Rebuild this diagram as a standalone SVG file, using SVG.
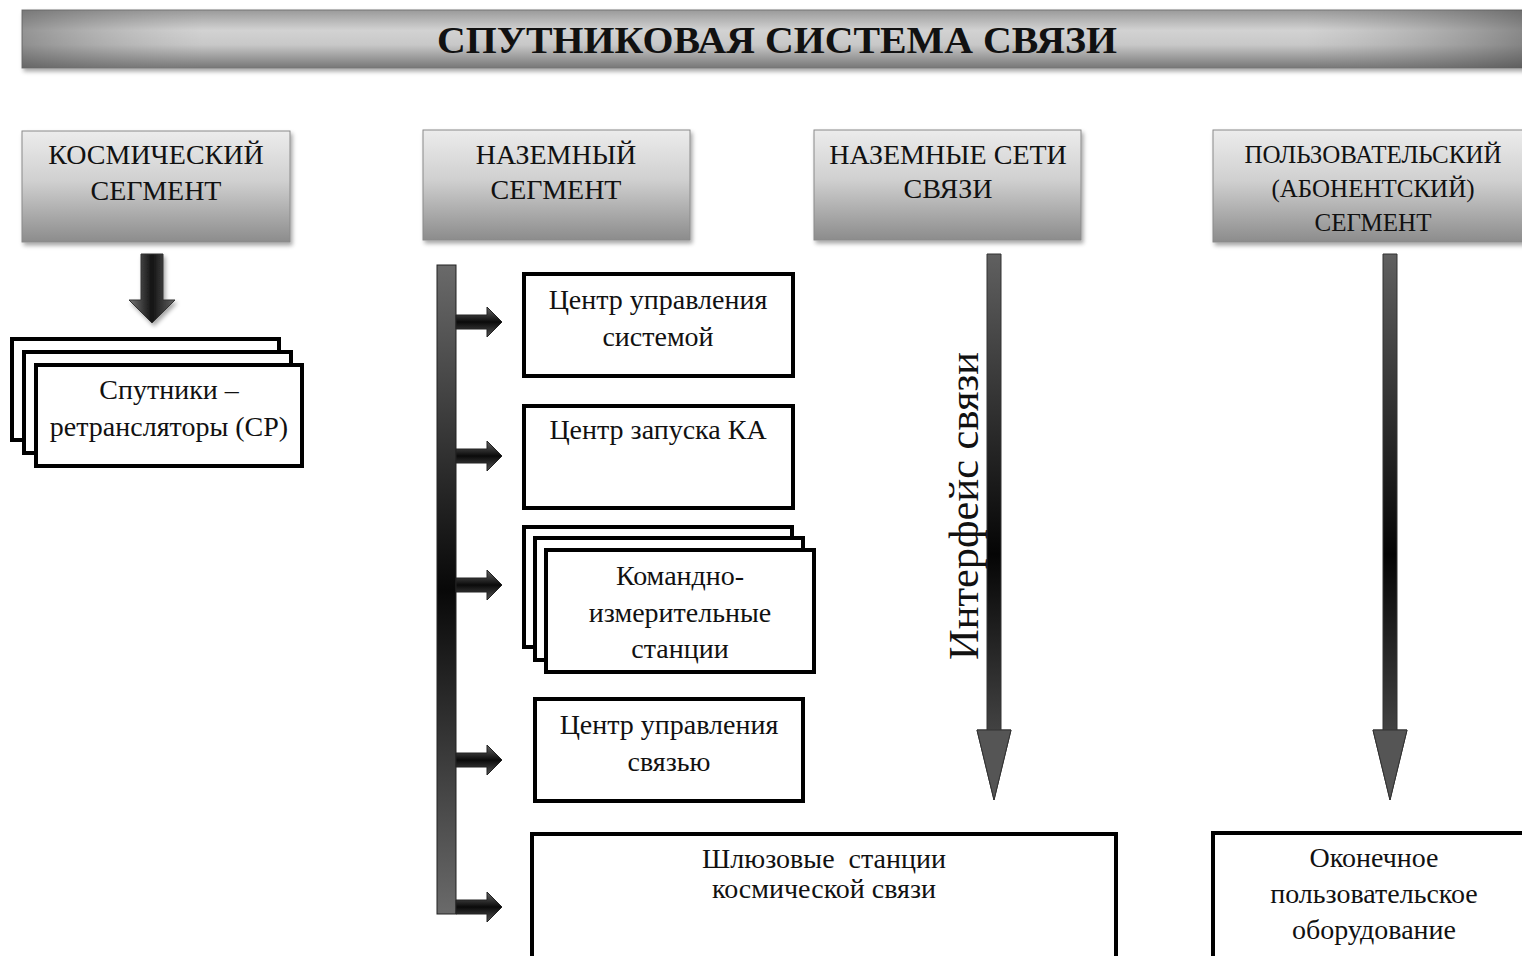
<svg xmlns="http://www.w3.org/2000/svg" width="1522" height="956" viewBox="0 0 1522 956">
<defs>
<linearGradient id="gTitle" x1="0" y1="0" x2="0" y2="1">
<stop offset="0" stop-color="#9a9a9a"/><stop offset="0.35" stop-color="#d2d2d2"/><stop offset="0.6" stop-color="#c8c8c8"/><stop offset="1" stop-color="#777"/>
</linearGradient>
<linearGradient id="gTitleH" x1="0" y1="0" x2="1" y2="0">
<stop offset="0" stop-color="#555" stop-opacity="0.5"/><stop offset="0.12" stop-color="#888" stop-opacity="0"/><stop offset="0.85" stop-color="#888" stop-opacity="0"/><stop offset="1" stop-color="#444" stop-opacity="0.55"/>
</linearGradient>
<linearGradient id="gHead" x1="0" y1="0" x2="0" y2="1">
<stop offset="0" stop-color="#ececec"/><stop offset="0.45" stop-color="#d0d0d0"/><stop offset="1" stop-color="#8c8c8c"/>
</linearGradient>
<linearGradient id="gBar" x1="0" y1="0" x2="0" y2="1">
<stop offset="0" stop-color="#6a6a6a"/><stop offset="0.5" stop-color="#080808"/><stop offset="1" stop-color="#6a6a6a"/>
</linearGradient>
<linearGradient id="gShaft" x1="0" y1="0" x2="0" y2="1">
<stop offset="0" stop-color="#606060"/><stop offset="0.55" stop-color="#050505"/><stop offset="1" stop-color="#5a5a5a"/>
</linearGradient>
<linearGradient id="gSmall" x1="0" y1="0" x2="1" y2="0">
<stop offset="0" stop-color="#777"/><stop offset="0.5" stop-color="#111"/><stop offset="1" stop-color="#666"/>
</linearGradient>
<linearGradient id="gBranch" x1="0" y1="0" x2="0" y2="1">
<stop offset="0" stop-color="#666"/><stop offset="0.5" stop-color="#0a0a0a"/><stop offset="1" stop-color="#555"/>
</linearGradient>
<filter id="sh" x="-10%" y="-10%" width="125%" height="130%">
<feDropShadow dx="2" dy="3" stdDeviation="2" flood-color="#000" flood-opacity="0.35"/>
</filter>
</defs>
<style>
text{font-family:"Liberation Serif","Times New Roman",serif;fill:#111;text-anchor:middle}
.hd{font-size:28px}
.hd2{font-size:25px}
.bx{font-size:28px}
.head{fill:url(#gHead);stroke:#8a8a8a;stroke-width:1}
.box{fill:#fff;stroke:#000;stroke-width:4}
.ar{stroke:#333;stroke-width:1}
</style>

<g id="title">
<rect x="22" y="10" width="1510" height="58" fill="url(#gTitle)" stroke="#777" stroke-width="1" filter="url(#sh)"/>
<rect x="22" y="10" width="1510" height="58" fill="url(#gTitleH)"/>
<text x="777" y="53" font-size="38" font-weight="bold" textLength="680" lengthAdjust="spacingAndGlyphs">СПУТНИКОВАЯ СИСТЕМА СВЯЗИ</text>
</g>

<g id="space-segment">
<rect class="head" x="22" y="131" width="268" height="111" filter="url(#sh)"/>
<text class="hd" x="156" y="164">КОСМИЧЕСКИЙ</text>
<text class="hd" x="156" y="200">СЕГМЕНТ</text>
</g>

<g id="ground-segment">
<rect class="head" x="423" y="130" width="267" height="110" filter="url(#sh)"/>
<text class="hd" x="556" y="164">НАЗЕМНЫЙ</text>
<text class="hd" x="556" y="199">СЕГМЕНТ</text>
</g>

<g id="ground-networks">
<rect class="head" x="814" y="130" width="267" height="110" filter="url(#sh)"/>
<text class="hd" x="948" y="164">НАЗЕМНЫЕ СЕТИ</text>
<text class="hd" x="948" y="198">СВЯЗИ</text>
</g>

<g id="user-segment">
<rect class="head" x="1213" y="130" width="320" height="112" filter="url(#sh)"/>
<text class="hd2" x="1373" y="163">ПОЛЬЗОВАТЕЛЬСКИЙ</text>
<text class="hd2" x="1373" y="197">(АБОНЕНТСКИЙ)</text>
<text class="hd2" x="1373" y="231">СЕГМЕНТ</text>
</g>

<g id="satellites">
<rect class="box" x="12" y="339" width="267" height="101"/>
<rect class="box" x="24" y="352" width="267" height="101"/>
<rect class="box" x="36" y="365" width="266" height="101"/>
<text class="bx" x="169" y="399">Спутники –</text>
<text class="bx" x="169" y="436">ретрансляторы (СР)</text>
</g>

<g id="control-center">
<rect class="box" x="524" y="274" width="269" height="102"/>
<text class="bx" x="658" y="309">Центр управления</text>
<text class="bx" x="658" y="346">системой</text>
</g>

<g id="launch-center">
<rect class="box" x="524" y="406" width="269" height="102"/>
<text class="bx" x="658" y="439">Центр запуска КА</text>
</g>

<g id="tracking-stations">
<rect class="box" x="524" y="527" width="268" height="120"/>
<rect class="box" x="535" y="538" width="268" height="122"/>
<rect class="box" x="546" y="550" width="268" height="122"/>
<text class="bx" x="680" y="585">Командно-</text>
<text class="bx" x="680" y="622">измерительные</text>
<text class="bx" x="680" y="658">станции</text>
</g>

<g id="comm-control">
<rect class="box" x="535" y="699" width="268" height="102"/>
<text class="bx" x="669" y="734">Центр управления</text>
<text class="bx" x="669" y="771">связью</text>
</g>

<g id="gateways">
<rect class="box" x="532" y="834" width="584" height="130"/>
<text class="bx" x="824" y="868" xml:space="preserve">Шлюзовые  станции</text>
<text class="bx" x="824" y="898">космической связи</text>
</g>

<g id="user-equipment">
<rect class="box" x="1213" y="833" width="320" height="130"/>
<text class="bx" x="1374" y="867">Оконечное</text>
<text class="bx" x="1374" y="903">пользовательское</text>
<text class="bx" x="1374" y="939">оборудование</text>
</g>

<g id="connectors">
<path class="ar" d="M141 254 H163 V300 H175 L152 323 L129 300 H141 Z" fill="url(#gSmall)" filter="url(#sh)"/>
<rect x="437" y="265" width="19" height="649" fill="url(#gBar)" stroke="#222" stroke-width="1"/>
<g fill="url(#gBranch)" stroke="#222" stroke-width="1">
<path d="M456 315 H487 V307 L502 322 L487 337 V329 H456 Z"/>
<path d="M456 449 H487 V441 L502 456 L487 471 V463 H456 Z"/>
<path d="M456 578 H487 V570 L502 585 L487 600 V592 H456 Z"/>
<path d="M456 753 H487 V745 L502 760 L487 775 V767 H456 Z"/>
<path d="M456 900 H487 V892 L502 907 L487 922 V914 H456 Z"/>
</g>
<path class="ar" d="M987 254 H1001 V730 H1011 L994 800 L977 730 H987 Z" fill="url(#gShaft)"/>
<path class="ar" d="M977 730 H1011 L994 800 Z" fill="#555"/>
<text transform="translate(978 506) rotate(-90)" x="0" y="0" font-size="42" textLength="308" lengthAdjust="spacingAndGlyphs">Интерфейс связи</text>
<path class="ar" d="M1383 254 H1397 V730 H1407 L1390 800 L1373 730 H1383 Z" fill="url(#gShaft)"/>
<path class="ar" d="M1373 730 H1407 L1390 800 Z" fill="#555"/>
</g>
</svg>
